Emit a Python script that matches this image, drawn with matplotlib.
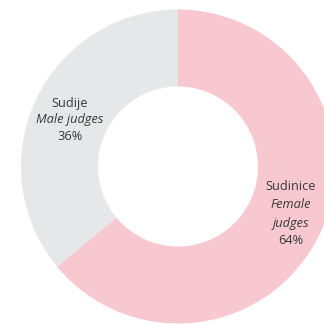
import matplotlib.pyplot as plt

labels_hr = ['Sudinice', 'Sudije']
labels_en = [['Female', 'judges'], ['Male judges']]
shares = [64, 36]
colors = ['#F8C8D0', '#E6E7E8']

fig = plt.figure(figsize=(3.24, 3.24), dpi=100)
ax = fig.add_axes([0, 0, 1, 1])

# donut in pixel-like coordinates so it can run off the right edge
ax.pie(shares, colors=colors, startangle=90, counterclock=False,
       center=(178, 157.5), radius=157,
       wedgeprops=dict(width=77, linewidth=0))
ax.set_xlim(0, 324)
ax.set_ylim(0, 324)
ax.set_aspect('equal')
ax.axis('off')

txt = dict(ha='center', va='center', fontsize=9.2, color='#383838', family='Open Sans')

# Male judges label
ax.text(70, 221, labels_hr[1], **txt)
ax.text(70, 204, labels_en[1][0], style='italic', **txt)
ax.text(70, 188, f'{shares[1]}%', **txt)

# Female judges label
ax.text(291, 137, labels_hr[0], **txt)
ax.text(291, 119, labels_en[0][0], style='italic', **txt)
ax.text(291, 101, labels_en[0][1], style='italic', **txt)
ax.text(291, 83, f'{shares[0]}%', **txt)

plt.savefig('out.png', dpi=100)
